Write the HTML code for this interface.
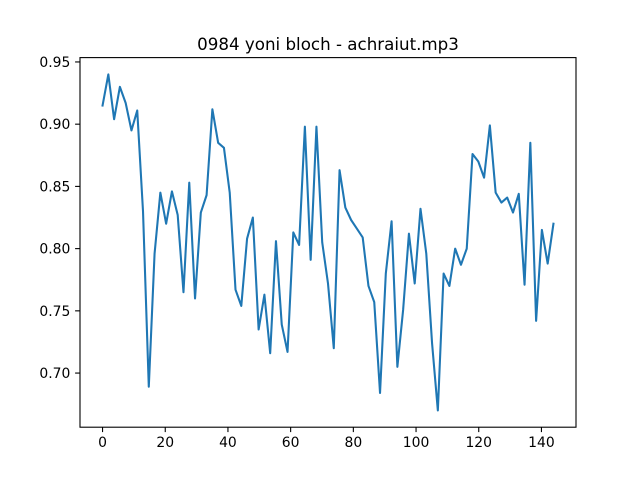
<!DOCTYPE html>
<html><head><meta charset="utf-8"><style>
html,body{margin:0;padding:0;background:#fff;}
svg{display:block;font-family:"DejaVu Sans","Liberation Sans",sans-serif;}
</style></head><body>
<svg id="chart" width="640" height="480" viewBox="0 0 640 480">
<rect width="640" height="480" fill="#fff"/>
<text x="328" y="50" text-anchor="middle" font-size="16.7" fill="#000">0984 yoni bloch - achraiut.mp3</text>
<g id="xticks"></g>
<g id="yticks"></g>
<path id="line" fill="none" stroke="#1f77b4" stroke-width="2.08" stroke-linejoin="round" stroke-linecap="square"/>
<rect x="80" y="57.6" width="496" height="369.6" fill="none" stroke="#000" stroke-width="1.1"/>
</svg>
<script>
const values = [0.915,0.940,0.904,0.930,0.917,0.895,0.911,0.830,0.689,0.796,0.845,0.820,0.846,0.827,0.765,0.853,0.760,0.829,0.843,0.912,0.885,0.881,0.845,0.767,0.754,0.808,0.825,0.735,0.763,0.716,0.806,0.739,0.717,0.813,0.803,0.898,0.791,0.898,0.805,0.772,0.720,0.863,0.833,0.823,0.816,0.809,0.770,0.757,0.684,0.780,0.822,0.705,0.751,0.812,0.772,0.832,0.796,0.724,0.670,0.780,0.770,0.800,0.787,0.800,0.876,0.870,0.857,0.899,0.845,0.837,0.841,0.829,0.844,0.771,0.885,0.742,0.815,0.788,0.820];
const xStep = 1.844;
const xTickLabels = ["0","20","40","60","80","100","120","140"];
const yTickLabels = ["0.70","0.75","0.80","0.85","0.90","0.95"];

const L=80,R=576,T=57.6,B=427.2;
const xs = values.map((v,i)=>i*xStep);
const xmaxD = xs[xs.length-1], xpad = xmaxD*0.05;
const x0=-xpad, x1=xmaxD+xpad;
const vmin=Math.min(...values), vmax=Math.max(...values), vpad=(vmax-vmin)*0.05;
const y0=vmin-vpad, y1=vmax+vpad;
const X=v=>L+(v-x0)/(x1-x0)*(R-L);
const Y=v=>B-(v-y0)/(y1-y0)*(B-T);
const NS="http://www.w3.org/2000/svg";
function mk(tag,attrs,parent){const e=document.createElementNS(NS,tag);for(const k in attrs)e.setAttribute(k,attrs[k]);parent.appendChild(e);return e;}
document.getElementById('line').setAttribute('d',values.map((v,i)=>(i?'L':'M')+X(xs[i]).toFixed(2)+' '+Y(v).toFixed(2)).join(' '));
const gx=document.getElementById('xticks');
xTickLabels.forEach(l=>{const px=X(parseFloat(l));
 const t=mk('line',{x1:px,x2:px,y1:B,y2:B+4.9,stroke:'#000','stroke-width':1.1},gx);
 
 
 const tx=mk('text',{x:px,y:B+20,'text-anchor':'middle','font-size':13.9,fill:'#000'},gx);
 tx.textContent=l;
 
 
});
const gy=document.getElementById('yticks');
yTickLabels.forEach(l=>{const py=Y(parseFloat(l));
 const t=mk('line',{x1:L-4.9,x2:L,y1:py,y2:py,stroke:'#000','stroke-width':1.1},gy);
 
 
 const tx=mk('text',{x:L-9.7,y:py+5,'text-anchor':'end','font-size':13.9,fill:'#000'},gy);
 tx.textContent=l;
 
 
});
</script>
</body></html>
